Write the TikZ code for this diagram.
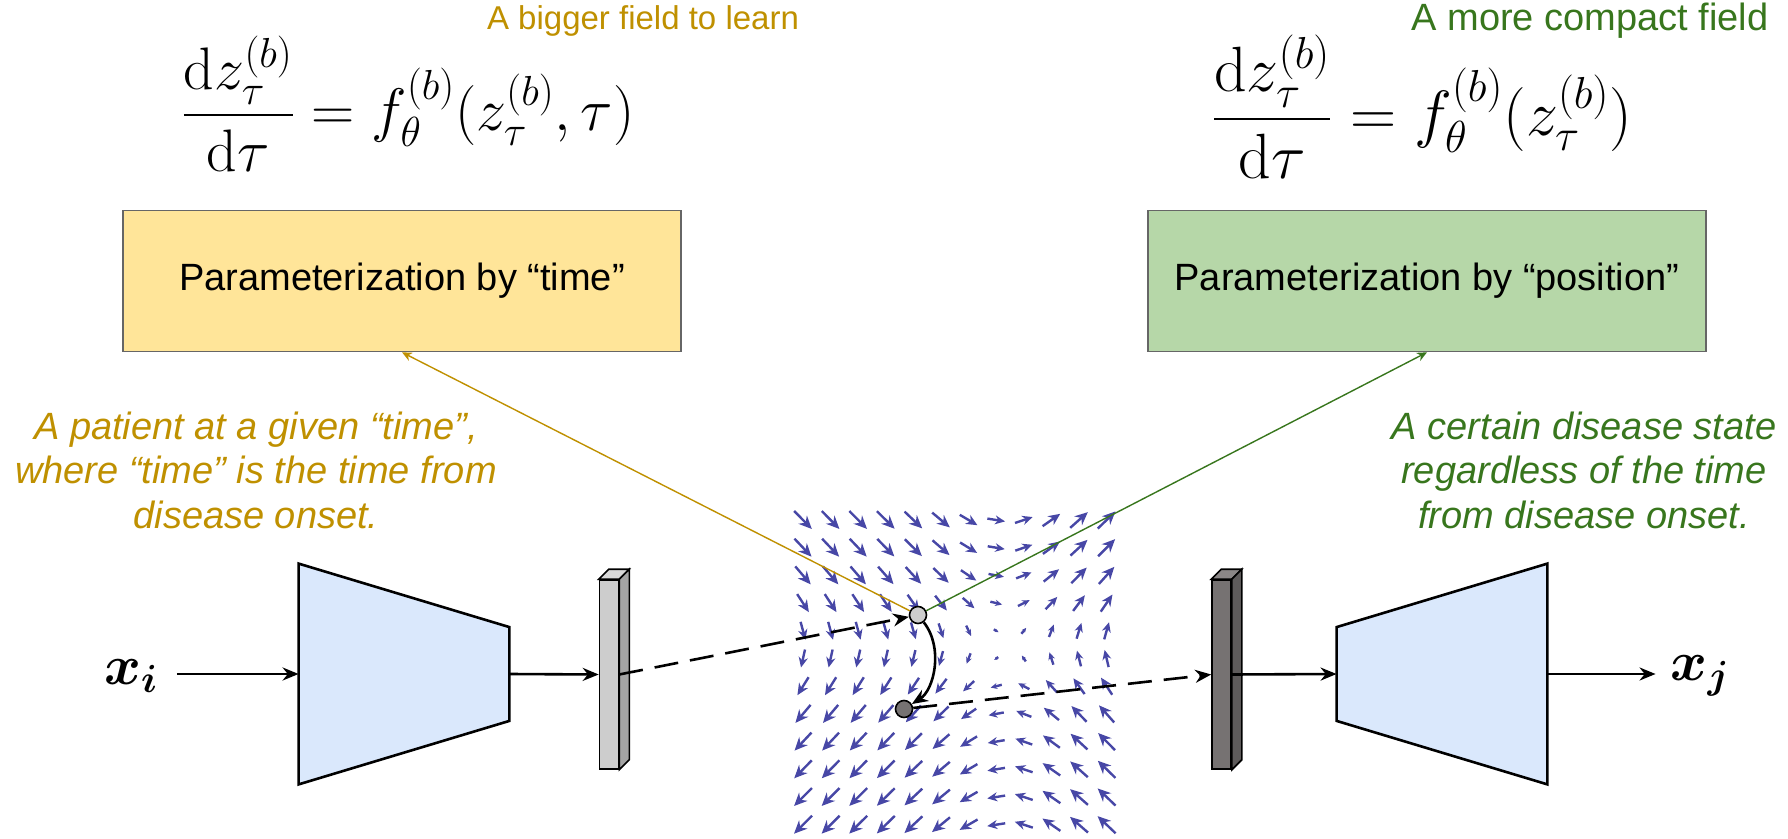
\RequirePackage{fix-cm}
\documentclass[tikz,border=0pt]{standalone}
\usepackage{amsmath}
\usepackage[no-math]{fontspec}
\setmainfont{Liberation Sans}
\usepackage{tikz}
\usetikzlibrary{arrows.meta}
\definecolor{goldtext}{HTML}{BF9000}
\definecolor{greentext}{HTML}{38761D}
\definecolor{yellowfill}{HTML}{FFE599}
\definecolor{greenfill}{HTML}{B6D7A8}
\definecolor{boxgray}{HTML}{666666}
\definecolor{coderblue}{HTML}{DAE8FC}
\definecolor{fieldblue}{HTML}{4747A6}
\definecolor{lightbar}{HTML}{CDCDCD}
\definecolor{darkbar}{HTML}{767272}

\begin{document}
\begin{tikzpicture}[x=0.5pt, y=-0.5pt,
          pbox/.style={rectangle, draw=boxgray, line width=0.8pt,
                       minimum width=279pt, minimum height=70.5pt,
                       font=\fontsize{19}{23}\selectfont},
          note/.style={align=center, font=\fontsize{19}{22.25}\selectfont\itshape},
          title/.style={inner sep=0pt},
          eqn/.style={inner sep=0pt, font=\fontsize{30}{34}\selectfont},
          coder/.style={rectangle, inner sep=0pt,
                        minimum width=105pt, minimum height=110pt},
          coderline/.style={draw=black, fill=coderblue, line width=1.3pt,
                            line join=miter},
          latent/.style={rectangle, draw, line width=0.8pt, inner sep=0pt,
                         minimum width=9.5pt, minimum height=94.5pt},
          state/.style={circle, draw, line width=0.8pt, inner sep=0pt,
                        minimum size=8.5pt},
          arr/.style={-{Stealth[length=8pt, width=6.5pt]}, line width=1.3pt},
          dasharr/.style={arr, dash pattern=on 12pt off 6pt},
          link/.style={-{Stealth[length=5pt, width=4.5pt]}, line width=0.7pt},
          fieldarr/.style={line width=1.2pt, fieldblue}
        ]
        \useasboundingbox (0,0) rectangle (1788,839);
        %% Vector field (saddle)
        \foreach \i in {0,...,11}{
          \foreach \j in {0,...,11}{
            \pgfmathsetmacro{\X}{803+27.6*\i}
            \pgfmathsetmacro{\Y}{520+27.7*\j}
            \pgfmathsetmacro{\du}{tanh((646-\Y)/55.2)}
            \pgfmathsetmacro{\dv}{-tanh((\X-1005)/55.2)}
            \pgfmathsetmacro{\mag}{sqrt(\du*\du+\dv*\dv)}
            \pgfmathsetmacro{\hl}{min(6.5, 0.4+4.6*\mag)}
            \pgfmathsetmacro{\hw}{0.9*\hl}
            \draw[fieldarr, -{Stealth[length=\hl pt, width=\hw pt]}]
                 (\X-9*\du, \Y-9*\dv) -- (\X+9*\du, \Y+9*\dv);
          }
        }
        %% Equations and titles
        \node[title, goldtext, font=\fontsize{16.5}{20}\selectfont] (ttitle)
              at (643,21) {A bigger field to learn};
        \node[title, greentext, font=\fontsize{19}{23}\selectfont] (ptitle)
              at (1590,21) {A more compact field};
        \node[eqn] (teq) at (408,104)
              {$\displaystyle\frac{\mathrm{d}z_\tau^{(b)}}{\mathrm{d}\tau}
                = f_\theta^{(b)}(z_\tau^{(b)},\tau)$};
        \node[eqn, font=\fontsize{32}{36}\selectfont] (peq) at (1422,107)
              {$\displaystyle\frac{\mathrm{d}z_\tau^{(b)}}{\mathrm{d}\tau}
                = f_\theta^{(b)}(z_\tau^{(b)})$};
        %% Parameterization boxes
        \node[pbox, fill=yellowfill] (tbox) at (402,281)
              {Parameterization by “time”};
        \node[pbox, fill=greenfill] (pbox2) at (1427,281)
              {Parameterization by “position”};
        %% Notes
        \node[note, goldtext] (tnote) at (256,470)
              {A patient at a given “time”,\\where “time” is the time from\\disease onset.};
        \node[note, greentext] (pnote) at (1584,470)
              {A certain disease state\\regardless of the time\\from disease onset.};
        %% Encoder and decoder
        \node[coder] (enc) at (404,674) {};
        \node[coder] (dec) at (1442,674) {};
        \draw[coderline] (enc.north west) -- ([yshift=-31.75pt]enc.north east)
              -- ([yshift=31.75pt]enc.south east) -- (enc.south west) -- cycle;
        \draw[coderline] ([yshift=-31.75pt]dec.north west) -- (dec.north east)
              -- (dec.south east) -- ([yshift=31.75pt]dec.south west) -- cycle;
        \node[font=\fontsize{28}{32}\selectfont] (xi) at (131,676) {$\boldsymbol{x_i}$};
        \node[font=\fontsize{28}{32}\selectfont] (xj) at (1700,676) {$\boldsymbol{x_j}$};
        %% Latent codes
        \node[latent, fill=lightbar] (z1) at (609,674.5) {};
        \node[latent, fill=darkbar] (z2) at (1221.5,674.5) {};
        \filldraw[fill=lightbar!75, line width=0.8pt] (z1.north west) -- ++(10,-10)
              -- ([shift={(10,-10)}]z1.north east) -- (z1.north east) -- cycle;
        \filldraw[fill=lightbar!80!black, line width=0.8pt] (z1.north east) -- ++(10,-10)
              -- ([shift={(10,-10)}]z1.south east) -- (z1.south east) -- cycle;
        \filldraw[fill=darkbar!85!white, line width=0.8pt] (z2.north west) -- ++(10,-10)
              -- ([shift={(10,-10)}]z2.north east) -- (z2.north east) -- cycle;
        \filldraw[fill=darkbar!80!black, line width=0.8pt] (z2.north east) -- ++(10,-10)
              -- ([shift={(10,-10)}]z2.south east) -- (z2.south east) -- cycle;
        %% States in the field
        \node[state, fill=lightbar] (p0) at (918,615) {};
        \node[state, fill=darkbar] (p1) at (904,709) {};
        %% Connectors
        \draw[arr, shorten <=6pt] (xi.east |- enc.west) -- (enc.west);
        \draw[arr] (enc.east) -- (z1.west);
        \draw[dasharr] (z1.east) -- (p0);
        \draw[arr] (p0) .. controls (944,648) and (934,690) .. (p1);
        \draw[dasharr] (p1) -- (z2.west);
        \draw[arr] (z2.east) -- (dec.west);
        \draw[arr, shorten >=4pt] (dec.east) -- (xj.west |- dec.east);
        \draw[link, goldtext] (p0) -- (tbox.south);
        \draw[link, greentext] (p0) -- (pbox2.south);
      \end{tikzpicture}
\end{document}
